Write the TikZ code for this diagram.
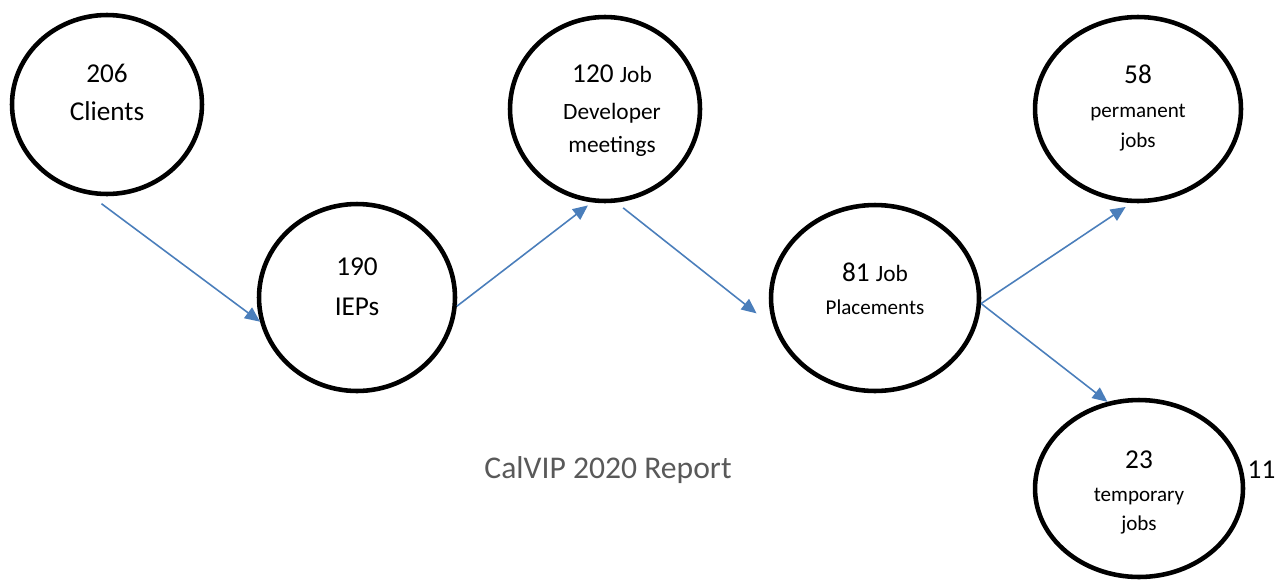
\documentclass[tikz,border=0pt]{standalone}
\usepackage{fontspec}
\setmainfont{Carlito}
\usetikzlibrary{shapes}
\usetikzlibrary{arrows.meta}
\usetikzlibrary{calc}

\definecolor{flowblue}{HTML}{4A7EBB}
\definecolor{titlegray}{HTML}{595959}
\newcommand{\bigsz}{\fontsize{15.5}{20}\selectfont}
\newcommand{\midsz}{\fontsize{13.3}{20}\selectfont}
\newcommand{\smallsz}{\fontsize{12}{20}\selectfont}

\begin{document}
\begin{tikzpicture}[
        x=0.02cm, y=-0.02cm,
        thick,
        stage/.style = {draw,
                        ellipse,
                        line width=2.6pt,
                        inner sep=0pt},
        caption/.style = {align=center, inner sep=0pt, font=\bigsz},
        flow/.style = {-{Triangle[length=8.5pt,width=7.5pt]}, draw=flowblue, line width=0.9pt}
        ]
        \useasboundingbox (0,0) rectangle (1284,582);
        % the six stages
        \node[stage, minimum width=3.8cm, minimum height=3.58cm] (Clients) at (107,104.5) {};
        \node[stage, minimum width=3.92cm, minimum height=3.74cm] (IEPs) at (357,297.5) {};
        \node[stage, minimum width=3.8cm, minimum height=3.68cm] (JobDev) at (605,109) {};
        \node[stage, minimum width=4.16cm, minimum height=3.72cm] (Placements) at (875,298) {};
        \node[stage, minimum width=4.12cm, minimum height=3.68cm] (Permanent) at (1138,109) {};
        \node[stage, minimum width=4.16cm, minimum height=3.54cm] (Temporary) at (1139,488.5) {};
        % texts
        \node[caption] (ClientsTxt) at ([yshift=0.24cm]Clients.center) {206\\[1.6pt]Clients};
        \node[caption] (IEPsTxt) at ([yshift=0.22cm]IEPs.center) {190\\[2.9pt]IEPs};
        \node[caption] (JobDevTxt) at ([xshift=0.14cm,yshift=-0.04cm]JobDev.center) {120 {\midsz Job}\\[1pt]{\midsz Developer}\\[-1.2pt]{\midsz meetings}};
        \node[caption] (PlacementsTxt) at ([yshift=0.19cm]Placements.center) {81 {\midsz Job}\\[-1.2pt]{\smallsz Placements}};
        \node[caption] (PermanentTxt) at ([yshift=0.02cm]Permanent.center) {58\\[-1pt]{\smallsz permanent}\\[-3pt]{\smallsz jobs}};
        \node[caption] (TemporaryTxt) at ([yshift=-0.07cm]Temporary.center) {23\\[-0.7pt]{\smallsz temporary}\\[-4pt]{\smallsz jobs}};
        \node[font=\bigsz, anchor=base, inner sep=0pt] (TempNote) at (1261.5,478) {11};
        \node[font=\fontsize{18}{22}\selectfont, text=titlegray, anchor=base, inner sep=0pt] (Title) at (608,478) {CalVIP 2020 Report};
        % arrows
        \draw[flow, shorten <=0.30cm] (Clients.-101) -- (IEPs.194);
        \draw[flow, shorten >=0.10cm] (IEPs.-5.5) -- (JobDev.-98);
        \draw[flow, shorten <=0.17cm, shorten >=0.44cm] (JobDev.-83.3) -- (Placements.196.3);
        \draw[flow, shorten >=0.14cm] (Placements.-3) -- (Permanent.-94.2);
        \draw[flow] (Placements.-3) -- (Temporary.110);
\end{tikzpicture}
\end{document}
